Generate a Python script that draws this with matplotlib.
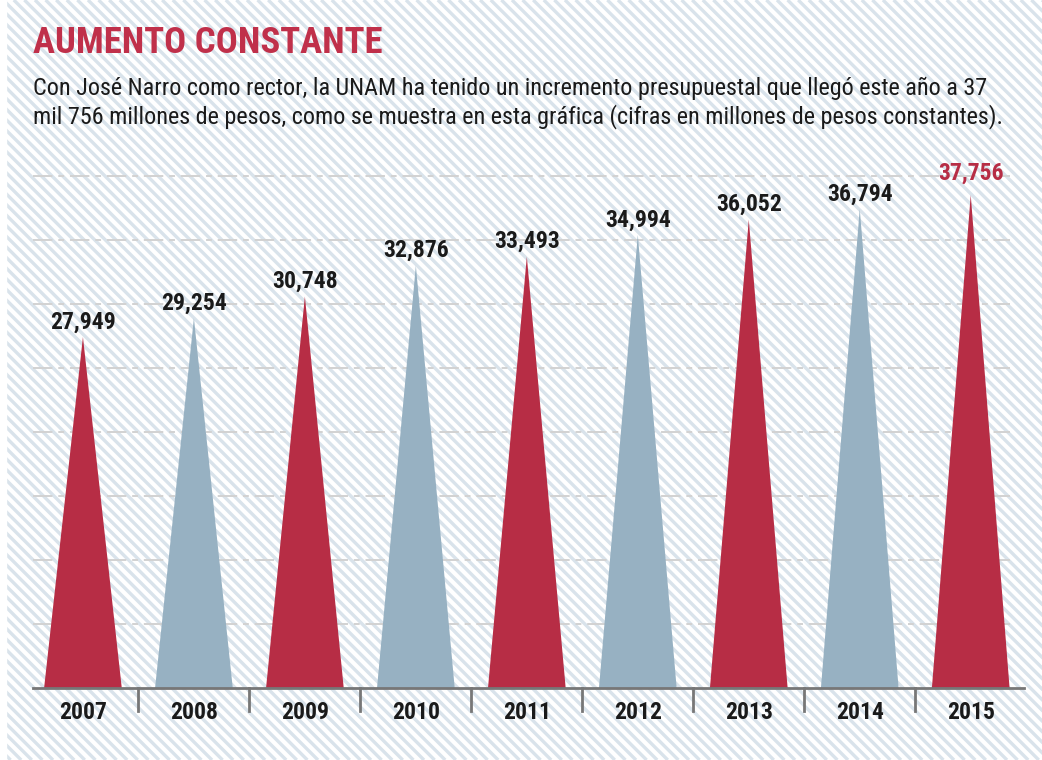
import numpy as np
import matplotlib
matplotlib.use("Agg")
import matplotlib.pyplot as plt
from matplotlib.collections import LineCollection
from matplotlib.patches import Polygon
from matplotlib import font_manager as fm

years = ["2007", "2008", "2009", "2010", "2011", "2012", "2013", "2014", "2015"]
values = [27949, 29254, 30748, 32876, 33493, 34994, 36052, 36794, 37756]
labels = ["27,949", "29,254", "30,748", "32,876", "33,493", "34,994", "36,052", "36,794", "37,756"]
colors = ["#b72d45", "#97b1c2", "#b72d45", "#97b1c2", "#b72d45", "#97b1c2", "#b72d45", "#97b1c2", "#b72d45"]

title = "AUMENTO CONSTANTE"
subtitle = ("Con José Narro como rector, la UNAM ha tenido un incremento presupuestal que llegó este año a 37\n"
            "mil 756 millones de pesos, como se muestra en esta gráfica (cifras en millones de pesos constantes).")

# pick a condensed family if one exists
fam = "DejaVu Sans"
for cand in ["Roboto Condensed", "Liberation Sans Narrow", "Open Sans Condensed"]:
    try:
        fm.findfont(fm.FontProperties(family=cand), fallback_to_default=False)
        fam = cand
        break
    except Exception:
        pass
plt.rcParams["font.family"] = [fam, "DejaVu Sans"]
plt.rcParams["font.stretch"] = "condensed"

W, H = 1042, 760
fig = plt.figure(figsize=(W / 100, H / 100), dpi=100)
fig.patch.set_facecolor("white")

# hatched background (figure pixel coords)
bg = fig.add_axes([0, 0, 1, 1], zorder=0)
bg.set_xlim(0, W)
bg.set_ylim(H, 0)
bg.axis("off")
segs = []
sp = 10.6
for c in np.arange(-H, W + H, sp):
    segs.append([(c, 0), (c + H, H)])
bg.add_collection(LineCollection(segs, colors="#d9e3eb", linewidths=2.4))
bg.add_patch(plt.Rectangle((0, 0), 6, H, color="white", zorder=2))

# main axes
ax = fig.add_axes([33 / W, 1 - 688 / H, (1024 - 33) / W, (688 - 170) / H], zorder=1)
ax.patch.set_alpha(0)
ymin, ymax = 3709, 39482
ax.set_xlim(-0.45, 8.48)
ax.set_ylim(ymin, ymax)
for s in ax.spines.values():
    s.set_visible(False)
ax.set_xticks([])
ax.set_yticks([])

# gridlines
step = 4420
for g in np.arange(ymin + step, ymax, step):
    ax.plot([-0.45, 8.35], [g, g], color="#d2d2d2", lw=1.4, dashes=(10, 3, 3, 3), zorder=1)

half = 0.35
for i, (v, c) in enumerate(zip(values, colors)):
    ax.add_patch(Polygon([(i - half, ymin), (i + half, ymin), (i, v)], closed=True,
                         facecolor=c, edgecolor="none", zorder=3))
    last = i == len(values) - 1
    ax.text(i, v + (700 if last else 250), labels[i], ha="center", va="bottom", fontsize=17,
            fontweight="bold", color="#b72d45" if last else "#1a1a1a", zorder=4)

# baseline + separators
ax.plot([-0.45, 8.48], [ymin, ymin], color="#777777", lw=2, zorder=5, clip_on=False)
for i in range(len(years) - 1):
    ax.plot([i + 0.5, i + 0.5], [ymin, ymin - 1600], color="#777777", lw=2, zorder=5, clip_on=False)
for i, y in enumerate(years):
    ax.text(i, ymin - 900, y, ha="center", va="top", fontsize=17, fontweight="bold", color="#1a1a1a")

fig.text(33 / W, 1 - 43 / H, title, ha="left", va="center", fontsize=26.5, fontweight="bold",
         color="#c0304a")
fig.text(33 / W, 1 - 103 / H, subtitle, ha="left", va="center", fontsize=17.4, color="#1a1a1a",
         linespacing=1.2)

fig.savefig("out.png", dpi=100, facecolor="white")
